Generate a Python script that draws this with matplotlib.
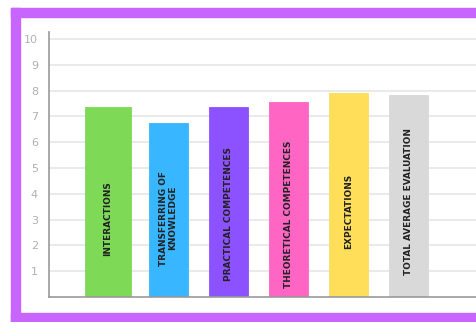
import matplotlib
matplotlib.use("Agg")
import matplotlib.pyplot as plt
from matplotlib.patches import Rectangle

categories = ["INTERACTIONS", "TRANSFERRING OF\nKNOWLEDGE", "PRACTICAL COMPETENCES",
              "THEORETICAL COMPETENCES", "EXPECTATIONS", "TOTAL AVERAGE EVALUATION"]
scores = [7.36, 6.74, 7.36, 7.57, 7.89, 7.84]
colors = ["#7ed957", "#38b6ff", "#8c52ff", "#ff66c4", "#ffde59", "#d9d9d9"]
yticks = list(range(1, 11))

# layout only: bar widths and where each label sits inside its bar
widths = [0.77, 0.65, 0.65, 0.65, 0.65, 0.65]
label_y = [3.02, 3.06, 3.2, 3.2, 3.33, 3.68]

FRAME = "#c965ff"

fig = plt.figure(figsize=(4.76, 3.22), dpi=100)
W, H = 476, 322
# purple frame (open at the right and bottom edges of the image)
for x0, y0, w, h in [(11, 8, W, 9), (11, 8, 9, H), (11, 313, W, 9)]:
    fig.patches.append(Rectangle((x0 / W, 1 - (y0 + h) / H), w / W, h / H,
                                 transform=fig.transFigure, color=FRAME, zorder=0))

ax = fig.add_axes([49 / W, 25 / H, (W - 49) / W, 265 / H])
ax.set_facecolor("none")
x = list(range(len(categories)))
ax.bar(x, scores, width=widths, color=colors, edgecolor=colors, lw=0.6, zorder=2)
for xi, lab, ly in zip(x, categories, label_y):
    ax.text(xi, ly, lab, rotation=90, ha="center", va="center", multialignment="center",
            fontsize=6.4, fontweight="bold", color="#222222", zorder=3,
            linespacing=1.1)

ax.set_xlim(-0.983, 6.13)
ax.set_ylim(0, 10.27)
ax.set_yticks(yticks)
ax.set_xticks([])
ax.grid(axis="y", color="#e6e6e6", lw=1.2, zorder=0)
ax.tick_params(axis="y", length=0, pad=8, labelsize=8, labelcolor="#b0b0b0")
for s in ["top", "right"]:
    ax.spines[s].set_visible(False)
ax.spines["left"].set_color("#999999")
ax.spines["bottom"].set_color("#999999")
ax.spines["left"].set_linewidth(1.2)
ax.spines["bottom"].set_linewidth(1.2)

fig.savefig("out.png", dpi=100)
